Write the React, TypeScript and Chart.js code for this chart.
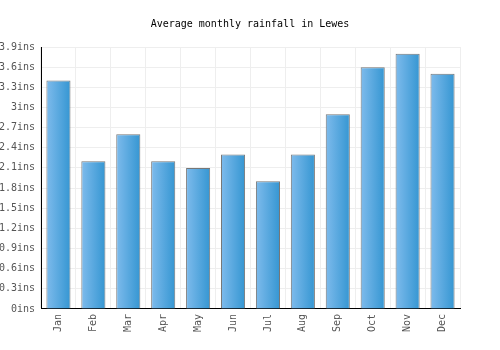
import React, { useEffect, useRef } from "react";
import { Chart, registerables } from "chart.js";

Chart.register(...registerables);

const months = ["Jan", "Feb", "Mar", "Apr", "May", "Jun", "Jul", "Aug", "Sep", "Oct", "Nov", "Dec"];
const rainfall = [3.4, 2.2, 2.6, 2.2, 2.1, 2.3, 1.9, 2.3, 2.9, 3.6, 3.8, 3.5];
const yMax = 3.9;
const yStep = 0.3;

export default function App() {
  const ref = useRef<HTMLCanvasElement | null>(null);
  useEffect(() => {
    const canvas = ref.current!;
    const font = { family: "'DejaVu Sans Mono', monospace", size: 10 };
    const chart = new Chart(canvas, {
      type: "bar",
      data: {
        labels: months,
        datasets: [
          {
            data: rainfall,
            backgroundColor: (c: any) => {
              const ch = c.chart;
              const xs = ch.scales?.x;
              if (!xs || c.dataIndex === undefined) return "#58a8e0";
              const cx = xs.getPixelForValue(c.dataIndex);
              if (!Number.isFinite(cx)) return "#58a8e0";
              const half = 12;
              const g = ch.ctx.createLinearGradient(cx - half, 0, cx + half, 0);
              g.addColorStop(0, "#7ebbec");
              g.addColorStop(1, "#3596d2");
              return g;
            },
            borderColor: "#777777",
            borderWidth: 1,
            borderSkipped: "bottom",
            barPercentage: 0.69,
            categoryPercentage: 1,
          },
        ],
      },
      options: {
        responsive: false,
        animation: false,
        devicePixelRatio: 1,
        layout: { padding: { left: 0, right: 0, top: 0, bottom: 13 } },
        plugins: {
          legend: { display: false },
          tooltip: { enabled: false },
          title: {
            display: true,
            text: "Average monthly rainfall in Lewes",
            color: "#000",
            font: { ...font, weight: "normal" },
            padding: { top: 18, bottom: 17 },
          },
        },
        scales: {
          x: {
            grid: { color: "#eeeeee", offset: true, drawTicks: false },
            border: { color: "#000", width: 1 },
            ticks: { color: "#555", font, maxRotation: 90, minRotation: 90, padding: 5 },
          },
          y: {
            min: 0,
            max: yMax,
            grid: { color: "#eeeeee", drawTicks: false },
            border: { color: "#000", width: 1 },
            afterFit: (s: any) => {
              s.width = 41;
            },
            ticks: {
              stepSize: yStep,
              color: "#555",
              font,
              padding: 6,
              callback: (v: any) => `${Math.round(Number(v) * 10) / 10}ins`,
            },
          },
          spacer: {
            type: "linear",
            position: "right",
            display: true,
            grid: { display: false, drawTicks: false },
            border: { display: false },
            ticks: { display: false },
            afterFit: (s: any) => {
              s.width = 40;
            },
          },
        },
      },
    } as any);
    return () => chart.destroy();
  }, []);
  return (
    <div style={{ position: "absolute", left: 0, top: 0, width: 500, height: 350, background: "#fff" }}>
      <canvas ref={ref} width={500} height={350} />
    </div>
  );
}
